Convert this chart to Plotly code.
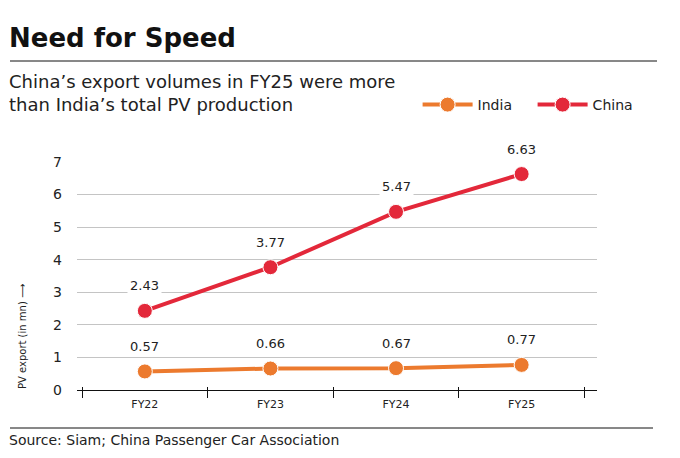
import plotly.graph_objs as go

##########################################################################
years = ["FY22", "FY23", "FY24", "FY25"]
india = [0.57, 0.66, 0.67, 0.77]
china = [2.43, 3.77, 5.47, 6.63]
y_ticks = [0, 1, 2, 3, 4, 5, 6, 7]
##########################################################################

FONT = "DejaVu Sans"
ORANGE = "#EC7A2E"
RED = "#E3283A"

india_trace = go.Scatter(
    x=years, y=india, name="India", mode="lines+markers",
    line={"color": ORANGE, "width": 4},
    marker={"size": 15, "color": ORANGE, "line": {"color": "white", "width": 1}},
    cliponaxis=False)
china_trace = go.Scatter(
    x=years, y=china, name="China", mode="lines+markers",
    line={"color": RED, "width": 4},
    marker={"size": 15, "color": RED, "line": {"color": "white", "width": 1}},
    cliponaxis=False)
# invisible trace so the second x axis (inner half of the ticks) gets drawn
dummy = go.Scatter(x=years, y=india, xaxis="x2", mode="markers",
                   marker={"opacity": 0}, showlegend=False, hoverinfo="skip")

labels = []
for series in (india, china):
    for year, val in zip(years, series):
        labels.append(dict(
            x=year, y=val, text="%.2f" % val, showarrow=False,
            yshift=25, bgcolor="white", borderpad=2,
            font={"family": FONT, "size": 13, "color": "#222"}))

layout = go.Layout(
    width=680, height=458,
    margin={"l": 77, "r": 83, "t": 162, "b": 68, "autoexpand": False},
    paper_bgcolor="white", plot_bgcolor="white",
    font={"family": FONT, "color": "#222"},
    showlegend=True,
    legend={
        "orientation": "h", "x": 0.655, "y": 1.25,
        "xanchor": "left", "yanchor": "middle",
        "font": {"family": FONT, "size": 14, "color": "#222"},
        "itemwidth": 50, "entrywidth": 50,
        "bgcolor": "rgba(0,0,0,0)"},
    xaxis={
        "type": "category", "range": [-0.54, 3.6],
        "tickson": "boundaries", "ticks": "outside", "ticklen": 7,
        "tickcolor": "#111", "showline": True, "linecolor": "#111",
        "linewidth": 1, "showgrid": False, "zeroline": False,
        "ticklabelstandoff": 4,
        "tickfont": {"family": FONT, "size": 11, "color": "#222"}},
    xaxis2={
        "type": "category", "range": [-0.54, 3.6], "overlaying": "x",
        "anchor": "y", "tickson": "boundaries", "ticks": "inside",
        "ticklen": 3, "tickcolor": "#111", "showticklabels": False,
        "showgrid": False, "zeroline": False, "side": "bottom"},
    yaxis={
        "range": [0, 7], "tickvals": y_ticks, "showline": False,
        "showgrid": True, "gridcolor": "#c4c4c4", "gridwidth": 1,
        "zeroline": False, "ticks": "", "ticklabelstandoff": 14,
        "tickfont": {"family": FONT, "size": 14, "color": "#222"}},
    annotations=labels + [
        dict(text="<b>Need for Speed</b>", xref="paper", yref="paper",
             x=-70 / 520, y=(390 - 38) / 228, xanchor="left", yanchor="middle",
             showarrow=False, font={"family": FONT, "size": 26, "color": "#111"}),
        dict(text="China\u2019s export volumes in FY25 were more<br>"
                  "than India\u2019s total PV production",
             xref="paper", yref="paper", x=-70 / 520, y=(390 - 93) / 228,
             xanchor="left", yanchor="middle", align="left", showarrow=False,
             font={"family": FONT, "size": 18, "color": "#222"}),
        dict(text="PV export (in mn) \u27f6", xref="paper", yref="paper",
             x=-55 / 520, y=(390 - 337) / 228, textangle=-90,
             xanchor="center", yanchor="middle", showarrow=False,
             font={"family": FONT, "size": 10, "color": "#222"}),
        dict(text="Source: Siam; China Passenger Car Association",
             xref="paper", yref="paper", x=-70 / 520, y=(390 - 440) / 228,
             xanchor="left", yanchor="middle", showarrow=False,
             font={"family": FONT, "size": 14, "color": "#222"}),
    ],
    shapes=[
        dict(type="line", xref="paper", yref="paper",
             x0=-67 / 520, x1=580 / 520, y0=(390 - 61) / 228, y1=(390 - 61) / 228,
             line={"color": "#111", "width": 1}),
        dict(type="line", xref="paper", yref="paper",
             x0=-67 / 520, x1=576 / 520, y0=(390 - 428) / 228, y1=(390 - 428) / 228,
             line={"color": "#111", "width": 1}),
    ])

fig = go.Figure(data=[india_trace, china_trace, dummy], layout=layout)
fig.write_html("out.html", config={"displayModeBar": False},
               post_script="document.body.style.margin='0px';")
